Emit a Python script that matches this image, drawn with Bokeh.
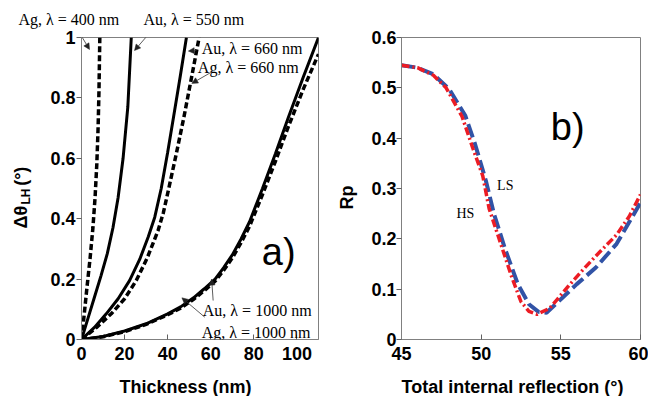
from math import pi
from bokeh.plotting import figure
from bokeh.models import Label, Arrow, NormalHead, FixedTicker
from bokeh.layouts import row
from bokeh.embed import file_html
from bokeh.resources import INLINE

# ---------------- Panel a) data: delta theta vs thickness ----------------
ag400_x = [0, 1, 2.5, 4, 5.3, 6.3, 7.1, 7.7, 8.1, 8.5]
ag400_y = [0, 0.065, 0.17, 0.27, 0.37, 0.47, 0.58, 0.7, 0.82, 1.0]

au550_x = [0, 3, 6, 9, 12, 14.6, 17, 19.3, 21.5, 23.1]
au550_y = [0, 0.07, 0.14, 0.21, 0.285, 0.37, 0.47, 0.6, 0.77, 1.0]

au660_x = [0, 6, 11.5, 17, 22.3, 27, 31, 34, 37, 40, 42.8, 45.8, 48.7]
au660_y = [0, 0.04, 0.085, 0.135, 0.195, 0.265, 0.34, 0.405, 0.5, 0.62, 0.74, 0.87, 1.0]

ag660_x = [0, 7, 13.8, 20, 25.4, 30.5, 35.5, 38, 40.5, 44, 47.5, 50.6, 54.6]
ag660_y = [0, 0.04, 0.085, 0.135, 0.195, 0.27, 0.36, 0.42, 0.5, 0.615, 0.735, 0.85, 1.0]

au1000_x = [0, 10, 20, 30, 40, 46, 52, 57, 62, 66, 70, 74, 78, 84, 90, 96, 103, 110]
au1000_y = [0, 0.01, 0.028, 0.052, 0.085, 0.108, 0.138, 0.168, 0.2, 0.238, 0.28, 0.332, 0.39,
            0.5, 0.615, 0.735, 0.87, 1.0]

ag1000_x = [0, 10, 20, 30, 40, 46, 52, 57, 62, 66, 70, 74, 78, 84, 90, 96, 103, 110]
ag1000_y = [0, 0.009, 0.026, 0.05, 0.082, 0.104, 0.133, 0.162, 0.193, 0.229, 0.27, 0.32, 0.375,
            0.48, 0.59, 0.705, 0.83, 0.945]

a_xticks = [0, 20, 40, 60, 80, 100]
a_yticks = [0, 0.2, 0.4, 0.6, 0.8, 1.0]
a_ytick_labels = ["0", "0.2", "0.4", "0.6", "0.8", "1"]

# ---------------- Panel b) data: Rp vs angle ----------------
ls_x = [45, 46, 47, 48, 49, 49.6, 50.3, 50.8, 51.5, 52.3, 53.0, 53.6, 54.1, 55.1, 56.0, 57.2, 58.5, 60]
ls_y = [0.545, 0.54, 0.527, 0.497, 0.445, 0.39, 0.315, 0.25, 0.18, 0.11, 0.07, 0.055, 0.053, 0.083,
        0.11, 0.143, 0.19, 0.272]

hs_x = [45, 46, 47, 47.8, 48.8, 49.5, 50.1, 50.5, 51.2, 51.9, 52.5, 53.0, 53.5, 54.3, 55.5, 56.4,
        57.2, 58.5, 59.3, 60]
hs_y = [0.545, 0.54, 0.525, 0.5, 0.443, 0.378, 0.325, 0.26, 0.193, 0.126, 0.075, 0.056, 0.05, 0.062,
        0.107, 0.139, 0.166, 0.208, 0.245, 0.288]

b_xticks = [45, 50, 55, 60]
b_yticks = [0, 0.1, 0.2, 0.3, 0.4, 0.5, 0.6]
b_ytick_labels = ["0", "0.1", "0.2", "0.3", "0.4", "0.5", "0.6"]

SANS = "Liberation Sans"
SERIF = "Liberation Serif"
H = 396
NB = "\u00a0"


def style(p, xt, yt, ylabels):
    p.grid.visible = False
    p.outline_line_color = "#808080"
    p.outline_line_width = 1
    p.background_fill_color = "white"
    p.border_fill_color = "white"
    for ax in (p.xaxis[0], p.yaxis[0]):
        ax.axis_line_color = "#808080"
        ax.major_tick_line_color = "#606060"
        ax.minor_tick_line_color = None
        ax.major_label_text_font = SANS
        ax.major_label_text_font_style = "bold"
        ax.major_label_text_font_size = "18px"
        ax.major_label_text_color = "black"
    p.xaxis[0].ticker = FixedTicker(ticks=xt)
    p.xaxis[0].major_tick_in = 5
    p.xaxis[0].major_tick_out = 0
    p.xaxis[0].major_label_standoff = 7
    p.yaxis[0].ticker = FixedTicker(ticks=yt)
    p.yaxis[0].major_label_overrides = {t: l for t, l in zip(yt, ylabels)}
    p.yaxis[0].major_tick_in = 0
    p.yaxis[0].major_tick_out = 5
    p.yaxis[0].major_label_standoff = 1


def ann(p, x, y, text, size="16px", font=SERIF, align="left", baseline="middle", style="normal",
        angle=0, units="data", place="center"):
    p.add_layout(Label(x=x, y=y, x_units=units, y_units=units, text=text, text_font=font,
                       text_font_size=size, text_align=align, text_baseline=baseline,
                       text_font_style=style, text_color="black", angle=angle), place)


def arrow(p, x0, y0, x1, y1, units="data", place="center"):
    p.add_layout(Arrow(end=NormalHead(size=6, fill_color="#222222", line_color="#222222", line_width=0.5),
                       x_start=x0, y_start=y0, x_end=x1, y_end=y1,
                       start_units=units, end_units=units,
                       line_color="#333333", line_width=0.8), place)


# ---------------- Figure a ----------------
pa = figure(width=330, height=H, x_range=(0, 110), y_range=(0, 1),
            min_border_left=81, min_border_right=12, min_border_top=37, min_border_bottom=57,
            output_backend="svg", toolbar_location=None)
style(pa, a_xticks, a_yticks, a_ytick_labels)

solid = dict(line_color="black", line_width=3)
dash = dict(line_color="black", line_width=3.5, line_dash="6 3")
pa.line(ag400_x, ag400_y, **dash)
pa.line(au550_x, au550_y, **solid)
pa.line(ag660_x, ag660_y, **dash)
pa.line(au660_x, au660_y, **solid)
pa.line(ag1000_x, ag1000_y, **dash)
pa.line(au1000_x, au1000_y, **solid)

# annotations above the frame (side panel, canvas pixels)
ann(pa, 18, 19, "Ag, λ = 400 nm", units="canvas", place="above")
arrow(pa, 77, 29, 89, 49, units="canvas", place="above")
ann(pa, 143, 19, "Au, λ = 550 nm", units="canvas", place="above")
arrow(pa, 153, 28, 134, 50, units="canvas", place="above")

ann(pa, 55.8, 0.963, "Au, λ = 660 nm")
arrow(pa, 53.3, 0.957, 49.6, 0.955)
ann(pa, 54.0, 0.902, "Ag, λ = 660 nm")
arrow(pa, 60.0, 0.884, 51.2, 0.848)
ann(pa, 56.3, 0.096, "Au, λ = 1000 nm")
arrow(pa, 61.1, 0.129, 60.4, 0.2)
ann(pa, 55.8, 0.024, "Ag, λ = 1000 nm")
arrow(pa, 57.2, 0.074, 46.6, 0.138)

ann(pa, 91.5, 0.29, "a)", size="38px", font=SANS, align="center")

# axis titles of panel a
ann(pa, 20, 228, "Δθ" + NB * 4 + "(°)", size="18px", font=SANS, style="bold", angle=pi / 2,
    units="canvas", place="left")
ann(pa, 25, 204, "LH", size="12px", font=SANS, style="bold", angle=pi / 2, units="canvas", place="left")
ann(pa, 185, 386, "Thickness (nm)", size="18px", font=SANS, style="bold", align="center",
    units="canvas", place="below")

# ---------------- Figure b ----------------
pb = figure(width=318, height=H, x_range=(45, 60), y_range=(0, 0.6),
            min_border_left=71, min_border_right=8, min_border_top=37, min_border_bottom=57,
            output_backend="svg", toolbar_location=None)
style(pb, b_xticks, b_yticks, b_ytick_labels)
pb.yaxis[0].major_label_standoff = 0

pb.line(ls_x, ls_y, line_color="#3153a6", line_width=4, line_dash="14 5")
pb.line(hs_x, hs_y, line_color="#ec1c24", line_width=3.5, line_dash="8 3 2 3")

ann(pb, 48.45, 0.25, "HS", size="14px")
ann(pb, 51.0, 0.305, "LS", size="14px")
ann(pb, 55.43, 0.422, "b)", size="38px", font=SANS, align="center")

ann(pb, 16, 197, "Rp", size="18px", font=SANS, style="bold", align="center", angle=pi / 2,
    units="canvas", place="left")
ann(pb, 182, 386, "Total internal reflection (°)", size="18px", font=SANS, style="bold",
    align="center", units="canvas", place="below")

layout = row(pa, pb)
open("out.html", "w").write(file_html(layout, INLINE))
